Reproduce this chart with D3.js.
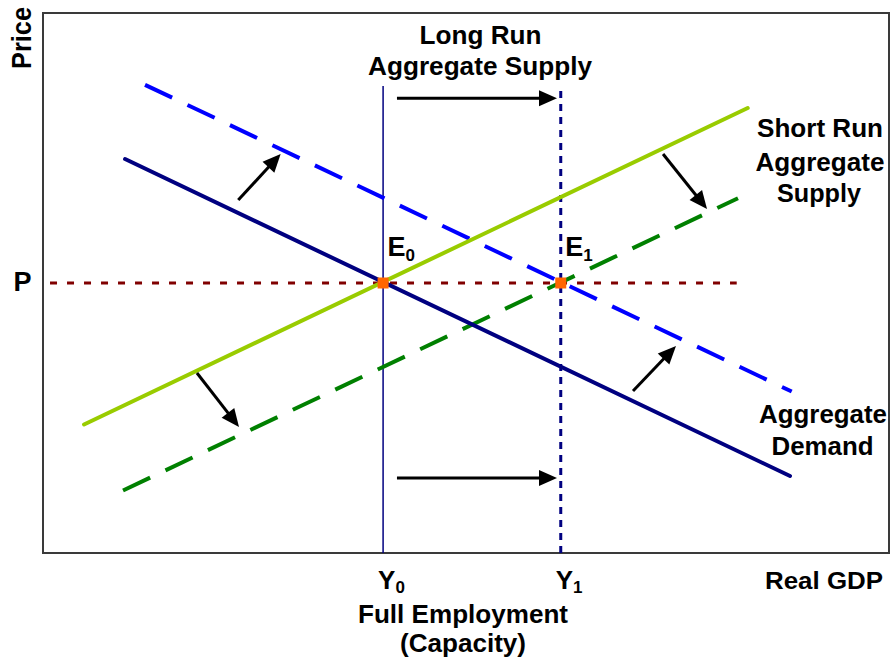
<!DOCTYPE html>
<html>
<head>
<meta charset="utf-8">
<script src="https://cdn.jsdelivr.net/npm/d3@7"></script>
<style>
  html, body { margin: 0; padding: 0; background: #fff; }
  svg { display: block; }
  text { font-family: "Liberation Sans", Arial, Helvetica, sans-serif; font-weight: bold; fill: #000; }
</style>
</head>
<body>
<div id="chart"></div>
<script>
// ---------- data (quantity 0..100, price 0..100) ----------
const priceLevel = 50;
const outputLevels = [40.2, 61.2];          // Y0, Y1
const xTickLabels = ["Y", "Y"];
const xTickSubs = ["0", "1"];
const yTickLabels = ["P"];
const eqLabels = ["E", "E"];
const eqSubs = ["0", "1"];

const adCurve    = [[9.7, 72.96], [88.3, 14.26]];   // Aggregate Demand
const adShifted  = [[12.06, 86.7], [88.5, 29.9]];   // shifted AD (dashed)
const srasCurve  = [[4.85, 23.8], [83.3, 82.4]];    // Short Run AS
const srasShift  = [[9.46, 11.57], [82.15, 65.7]];  // shifted SRAS (dashed)
const priceLine  = [[0.83, 50], [82.0, 50]];
const lrasTop = 86.5;
const lras1Top = 85.7;

const shiftArrows = [
  [[41.84, 84.2], [60.76, 84.2]],
  [[41.84, 13.9], [60.76, 13.9]],
  [[23.08, 65.37], [28.09, 73.89]],
  [[69.74, 30.0], [74.82, 38.33]],
  [[73.29, 73.89], [78.49, 63.70]],
  [[18.20, 33.33], [23.17, 23.33]]
];

// ---------- layout ----------
const W = 892, H = 665;
const plot = { left: 43, top: 13, right: 889, bottom: 553 };

const svg = d3.select("#chart").append("svg").attr("width", W).attr("height", H);
const x = d3.scaleLinear().domain([0, 100]).range([plot.left, plot.right]);
const y = d3.scaleLinear().domain([0, 100]).range([plot.bottom, plot.top]);
const line = d3.line().x(d => x(d[0])).y(d => y(d[1]));

// frame
svg.append("rect")
  .attr("x", x(0)).attr("y", y(100))
  .attr("width", x(100) - x(0)).attr("height", y(0) - y(100))
  .attr("fill", "none").attr("stroke", "#3a3a3a").attr("stroke-width", 2);

// LRAS (solid thin) and shifted LRAS (dotted)
svg.append("path").datum([[outputLevels[0], 0], [outputLevels[0], lrasTop]])
  .attr("d", line).attr("stroke", "#000080").attr("stroke-width", 1.5).attr("fill", "none");
svg.append("path").datum([[outputLevels[1], 0], [outputLevels[1], lras1Top]])
  .attr("d", line).attr("stroke", "#000080").attr("stroke-width", 3)
  .attr("stroke-dasharray", "7,6").attr("fill", "none");

// price line
svg.append("path").datum(priceLine)
  .attr("d", line).attr("stroke", "#800000").attr("stroke-width", 3)
  .attr("stroke-dasharray", "7,10").attr("fill", "none");

// curves
svg.append("path").datum(srasShift)
  .attr("d", line).attr("stroke", "#008000").attr("stroke-width", 4)
  .attr("stroke-dasharray", "30,17").attr("fill", "none");
svg.append("path").datum(adShifted)
  .attr("d", line).attr("stroke", "#0000FF").attr("stroke-width", 4)
  .attr("stroke-dasharray", "30,17").attr("fill", "none");
svg.append("path").datum(srasCurve)
  .attr("d", line).attr("stroke", "#99CC00").attr("stroke-width", 4)
  .attr("stroke-linecap", "round").attr("fill", "none");
svg.append("path").datum(adCurve)
  .attr("d", line).attr("stroke", "#000080").attr("stroke-width", 4)
  .attr("stroke-linecap", "round").attr("fill", "none");

// equilibrium markers
const sq = 11;
svg.selectAll("rect.eq").data(outputLevels).enter().append("rect")
  .attr("class", "eq")
  .attr("x", d => x(d) - sq / 2).attr("y", y(priceLevel) - sq / 2)
  .attr("width", sq).attr("height", sq).attr("fill", "#FF6600");

// arrows
const headLen = 18, headHalf = 8;
shiftArrows.forEach(a => {
  const x1 = x(a[0][0]), y1 = y(a[0][1]), x2 = x(a[1][0]), y2 = y(a[1][1]);
  const ang = Math.atan2(y2 - y1, x2 - x1);
  const bx = x2 - headLen * Math.cos(ang), by = y2 - headLen * Math.sin(ang);
  svg.append("line").attr("x1", x1).attr("y1", y1).attr("x2", bx + Math.cos(ang)).attr("y2", by + Math.sin(ang))
    .attr("stroke", "#000").attr("stroke-width", 3);
  const px = -Math.sin(ang), py = Math.cos(ang);
  svg.append("path")
    .attr("d", `M${x2},${y2}L${bx + px * headHalf},${by + py * headHalf}L${bx - px * headHalf},${by - py * headHalf}Z`)
    .attr("fill", "#000");
});

// ---------- text ----------
function label(txt, cx, base, size, width) {
  const t = svg.append("text").attr("x", cx).attr("y", base)
    .attr("text-anchor", "middle").attr("font-size", size).text(txt);
  if (width) t.attr("textLength", width).attr("lengthAdjust", "spacingAndGlyphs");
  return t;
}
label("Long Run", 480.5, 44, 25, 122);
label("Aggregate Supply", 480, 75, 25, 224);
label("Short Run", 820, 137, 25, 126);
label("Aggregate", 820, 171, 25, 129);
label("Supply", 819, 202, 25, 84);
label("Aggregate", 823, 423, 25, 128);
label("Demand", 822.5, 455, 25, 102);
label("Real GDP", 824, 589, 24, 118);
label("Full Employment", 463, 623, 25, 210);
label("(Capacity)", 463, 652, 25, 126);

// y axis title (rotated)
svg.append("text").attr("transform", "translate(31,38) rotate(-90)")
  .attr("text-anchor", "middle").attr("font-size", 28)
  .attr("textLength", 62).attr("lengthAdjust", "spacingAndGlyphs").text("Price");

// y tick label
svg.selectAll("text.ytick").data(yTickLabels).enter().append("text")
  .attr("class", "ytick").attr("x", 22.5).attr("y", y(priceLevel) + 8)
  .attr("text-anchor", "middle").attr("font-size", 27).text(d => d);

// x tick labels with subscripts
outputLevels.forEach((q, i) => {
  const t = svg.append("text").attr("x", x(q) - 5).attr("y", 589).attr("font-size", 26);
  t.append("tspan").text(xTickLabels[i]);
  t.append("tspan").attr("font-size", 17).attr("dy", 4).text(xTickSubs[i]);
});

// equilibrium labels
outputLevels.forEach((q, i) => {
  const t = svg.append("text").attr("x", x(q) + 4.5).attr("y", y(priceLevel) - 27).attr("font-size", 27);
  t.append("tspan").text(eqLabels[i]);
  t.append("tspan").attr("font-size", 17).attr("dy", 5).text(eqSubs[i]);
});
</script>
</body>
</html>
